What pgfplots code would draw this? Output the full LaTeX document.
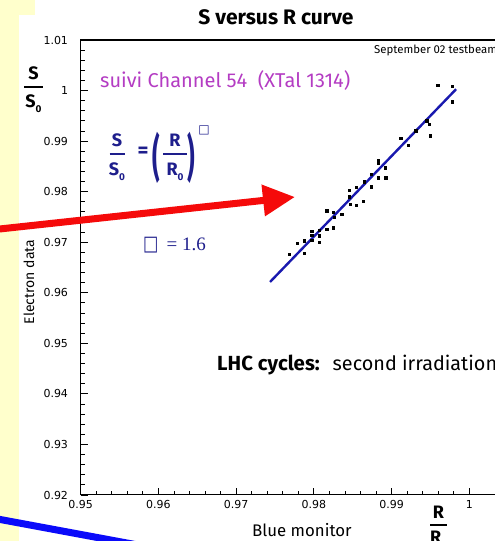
\documentclass[border=0pt]{standalone}
\usepackage{fontspec}
\setmainfont{Fira Sans}
\newfontfamily\dejavu{DejaVu Sans}
\newfontfamily\timesfont{Liberation Serif}
\usepackage{graphicx}
\usepackage{pgfplots}
\pgfplotsset{compat=1.18}
\usetikzlibrary{arrows.meta}

\definecolor{slideyellow}{RGB}{255,255,204}
\definecolor{chanmagenta}{RGB}{180,60,195}
\definecolor{formulablue}{RGB}{30,30,140}
\definecolor{fitblue}{RGB}{25,25,175}
\definecolor{arrowred}{RGB}{245,10,10}
\definecolor{arrowblue}{RGB}{10,10,250}

\newcommand{\fsz}[1]{\fontsize{#1}{#1}\selectfont}
\newcommand{\sub}[1]{\raisebox{-0.25em}{\fsz{10}#1}}
\newcommand{\axisnumber}[1]{\mbox{\dejavu\fsz{11}\pgfmathprintnumber[fixed,precision=2,assume math mode=true]{#1}}}

% bold fraction: x, y of the bar, half width, gap above, gap below, numerator, denominator
\newcommand{\barfrac}[7]{%
  \draw[line width=1.2pt] ({#1-#3},#2) -- ({#1+#3},#2);
  \node[anchor=base, inner sep=0pt] at (#1,{#2+#4}) {#6};
  \node[anchor=north, inner sep=0pt] at (#1,{#2-#5}) {#7};
}

\begin{document}
\begin{tikzpicture}[x=1pt,y=1pt]
\useasboundingbox (0,0) rectangle (495,541);
\clip (0,0) rectangle (495,541);
\fill[white] (0,0) rectangle (495,541);
\fill[slideyellow] (0,0) rectangle (19,541);
\fill[slideyellow] (0,526) rectangle (35,541);

\begin{axis}[
  at={(80.7pt,46pt)}, anchor=south west,
  scale only axis, width=427.5pt, height=455pt,
  xmin=0.95, xmax=1.005, ymin=0.92, ymax=1.01,
  xtick={0.95,0.96,0.97,0.98,0.99,1},
  ytick={0.92,0.93,0.94,0.95,0.96,0.97,0.98,0.99,1,1.01},
  xticklabel={\axisnumber{\tick}},
  yticklabel={\axisnumber{\tick}},
  minor tick num=4,
  tick align=inside, tick pos=left,
  major tick length=7pt, minor tick length=4pt,
  tick style={black, line width=0.8pt},
  axis line style={line width=1pt},
  xticklabel style={anchor=north, inner sep=0pt, yshift=-5.5pt},
  yticklabel style={anchor=east, inner sep=0pt, xshift=-12.5pt},
]
% fitted power law
\addplot[fitblue, line width=2.4pt, no marks] coordinates {
  (0.97436,0.96214) (0.99829,1.00026)
};
% electron data versus blue monitor
\addplot[only marks, mark=square*, mark size=1.2pt, black] coordinates {
  (0.99593,1.00111) (0.99781,1.00091) (0.99781,0.99781) (0.99452,0.99405)
  (0.99485,0.99339) (0.99494,0.99108) (0.99310,0.99207) (0.99117,0.99056)
  (0.99215,0.98924) (0.98829,0.98627) (0.98829,0.98562) (0.98915,0.98475)
  (0.98735,0.98344) (0.98829,0.98277) (0.98924,0.98277) (0.98645,0.98198)
  (0.98735,0.98099) (0.98452,0.98034) (0.98542,0.98087) (0.98452,0.97901)
  (0.98465,0.97751) (0.98542,0.97737) (0.98636,0.97816) (0.98165,0.97624)
  (0.98250,0.97593) (0.98358,0.97553) (0.98263,0.97494) (0.98165,0.97256)
  (0.98250,0.97288) (0.98066,0.97242) (0.97972,0.97223) (0.97972,0.97143)
  (0.98066,0.97130) (0.97877,0.97031) (0.97972,0.97045) (0.98066,0.96999)
  (0.97787,0.96979) (0.97877,0.96781) (0.97684,0.96768)
};
\draw[line width=2pt] (rel axis cs:0,1) -- (rel axis cs:1,1);
\end{axis}

% titles and annotations
\node[font=\bfseries\fsz{21}] at (276,524) {S versus R curve};
\node[anchor=west, font=\fsz{11.4}, inner sep=0pt] at (374,491) {September 02 testbeam};
\node[anchor=west, font=\fsz{20}, text=chanmagenta, inner sep=0pt] at (100,460)
  {suivi Channel 54\ \ (XTal 1314)};

\begin{scope}[color=formulablue, font=\bfseries\fsz{18}]
  \barfrac{117}{387}{7.5}{7}{9}{S}{S\sub{0}}
  \node[inner sep=0pt, font=\bfseries\fsz{21}] at (143,389) {=};
  \node[inner sep=0pt] at (156,383.5) {\scalebox{1.3}[2.8]{(}};
  \barfrac{175}{387}{12}{7}{9}{R}{R\sub{0}}
  \node[inner sep=0pt] at (191.5,383.5) {\scalebox{1.3}[2.8]{)}};
  \node[inner sep=0pt, font=\dejavu\fsz{12}] at (204,411) {□};
  \node[anchor=west, inner sep=0pt] at (143,296)
    {{\dejavu\mdseries\scalebox{0.9}[1.15]{□}}\hspace{8pt}{\timesfont\mdseries\fsz{19}=\hspace{5pt}1.6}};
\end{scope}

\node[anchor=west, inner sep=0pt] at (217,176)
  {{\fsz{20.4}\textbf{LHC cycles:}}\hspace{13pt}{\fsz{19.8}second irradiation}};

\node[rotate=90, font=\fsz{14}] at (29,259) {Electron data};
\begin{scope}[font=\bfseries\fsz{18}]
  \barfrac{33.5}{454}{9.5}{7}{8}{S}{S\sub{0}}
  \barfrac{438.5}{16}{8.5}{6}{6}{R}{R\sub{0}}
\end{scope}
\node[anchor=west, inner sep=0pt, font=\fsz{16.8}] at (252,11) {Blue monitor};

% slide arrows
\draw[arrowred, line width=7pt, -{Triangle[length=32pt,width=30pt]}] (-5,311.5) -- (295,344);
\draw[arrowblue, line width=7pt] (-10,23.4) -- (170,-10);
\end{tikzpicture}
\end{document}
